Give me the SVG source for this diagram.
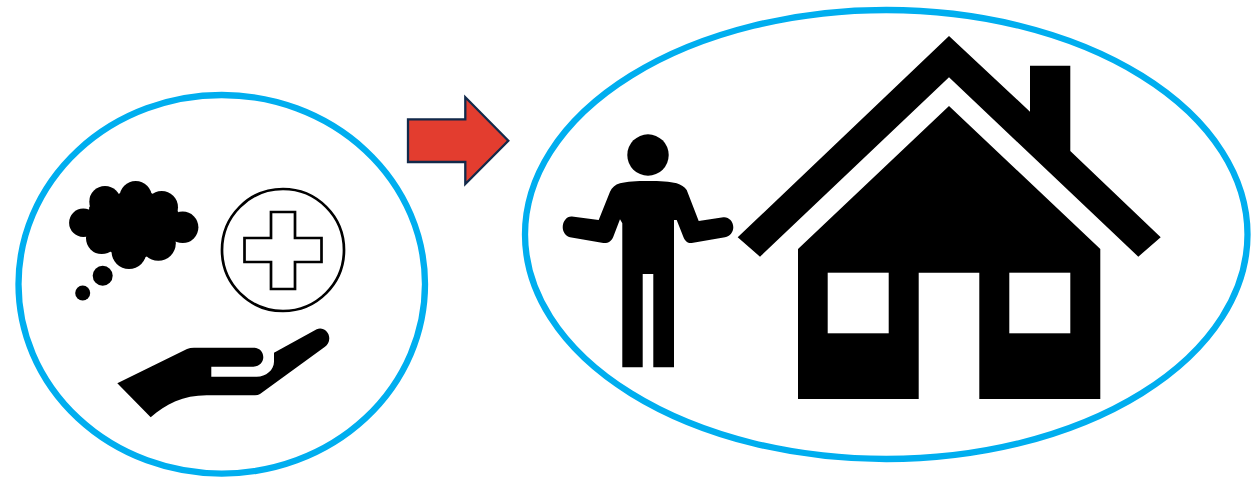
<svg xmlns="http://www.w3.org/2000/svg" width="1260" height="477" viewBox="0 0 1260 477">
<style>
.ring{fill:none;stroke:#00aeef;stroke-width:6.300}
.k{fill:#000}
.w{fill:#fff}
</style>
<rect width="1260" height="477" fill="#fff"/>
<g id="care-needs">
<ellipse class="ring" cx="221.750" cy="284.300" rx="203.250" ry="189.300"/>
<g id="thought-cloud" class="k">
<circle cx="83.300" cy="222.700" r="14.200"/>
<circle cx="105" cy="201.700" r="15.700"/>
<circle cx="135.700" cy="197.300" r="16.200"/>
<circle cx="161.700" cy="207.300" r="16.300"/>
<circle cx="182.700" cy="227.300" r="15.700"/>
<circle cx="101.700" cy="238.300" r="15.700"/>
<circle cx="129" cy="251.700" r="17.400"/>
<circle cx="158.300" cy="243.300" r="17.500"/>
<path d="M120 193.300L151.700 193.300L178.300 211.700L175 243.300L145 257.300L113.300 253.300L86.700 238.300L89.300 206.700Z"/>
<circle cx="102.700" cy="275.700" r="10"/>
<circle cx="82.700" cy="293" r="7.500"/>
</g>
<g id="medical-cross">
<circle cx="283" cy="250" r="61" fill="#fff" stroke="#000" stroke-width="2.700"/>
<path d="M271 212H295V238H321.500V262H295V289H271V262H244.500V238H271Z" fill="#fff" stroke="#000" stroke-width="2.700"/>
</g>
<path id="hand" class="k" d="M117.300 383.300L187 349Q190 347.700 194 347.700H253.300C260 347.700 263.300 352 263.300 357.300C263.300 362.500 259 366.700 253.300 366.700H211.300V376.700H256.700C266 376.700 274 370 274 361.700V352.700L316.700 329.300C322 326.500 329.300 331 329.300 338.300C329.300 342 327.500 345 325 346.700L260 394Q258 395.300 255 395.300H206.700C183 395.300 166 404 150.700 417.300Z"/>
</g>
<g id="connectors">
<path d="M408 119.300H465.300V97.300L508.300 140.700L465.300 184V162H408Z" fill="#e33d2f" stroke="#12294a" stroke-width="2.300"/>
</g>
<g id="person-at-home">
<ellipse class="ring" cx="886.250" cy="234.500" rx="361.250" ry="224.500"/>
<g id="person" class="k">
<circle cx="648" cy="155" r="20.700"/>
<path d="M648.300 181C636 181 627 181.500 620 183.300C615 184.800 612 187.500 610 191.700L598.700 220L572 216.500C567 216 562.700 221 562.700 227.300C562.700 232 566 236.500 570 237.300L603.300 243C608 243.500 611.500 241 613.300 236.700L620 219.300L622.300 223.300V367.300H642.700V274H653.300V367.300H674V220H676.700L683.300 236.700C685 241 688 243.500 691.700 243L725 237.300C730 236.500 733.300 232 733.300 227.300C733.300 221 728 216.500 723.300 217.300L698.700 221L686.700 190C684.500 187 681 184.800 676.700 183.300C670 181.500 660 181 648.300 181Z"/>
</g>
<g id="house">
<path class="k" d="M949 36L1030 111.700V65.700H1070.300V151L1160.700 237.300L1138.300 256.700L949 77.300L760 256.700L737.700 237.300Z"/>
<path class="k" d="M949 106L1100.300 249V399H979.300V272.700H918.700V399H798V249Z"/>
<rect class="w" x="827.700" y="272.700" width="61" height="60.600"/>
<rect class="w" x="1009.300" y="272.700" width="61" height="60.600"/>
</g>
</g>
</svg>
